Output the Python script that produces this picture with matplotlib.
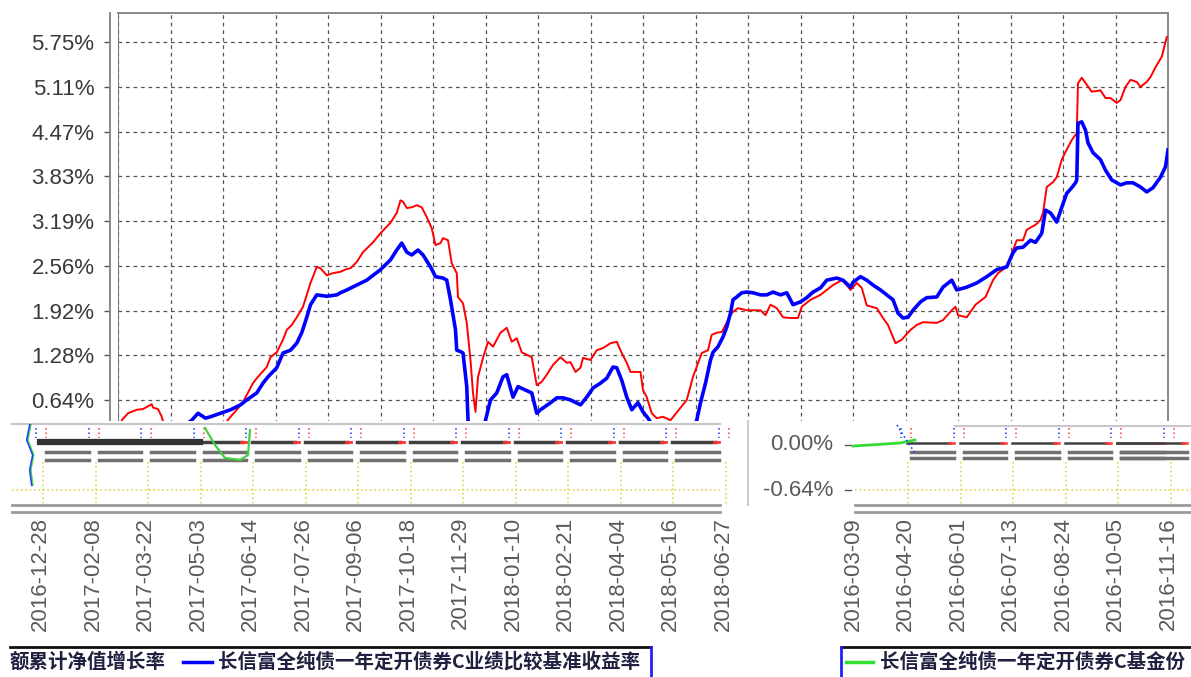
import matplotlib
matplotlib.use("Agg")
import matplotlib.pyplot as plt
from matplotlib.patches import Rectangle
import numpy as np

plt.rcParams['font.family'] = ['Liberation Sans', 'Noto Sans CJK SC', 'DejaVu Sans']

# days from the first date; one grid step = 42 days
red_days = [0, 3, 8, 15, 20, 27, 28, 32, 35, 38, 50, 66, 78, 86, 90, 95, 100, 108, 111, 119,
            122, 127, 132, 135, 139, 143, 148, 154, 156, 159, 162, 167, 172, 178, 183, 186, 191, 196, 204, 210,
            218, 223, 226, 228, 231, 235, 239, 243, 247, 251, 254, 258, 260, 264, 267, 271, 272, 276, 279, 282,
            284, 286, 288, 292, 296, 300, 306, 311, 315, 319, 323, 331, 335, 339, 343, 348, 354, 359, 362, 366,
            370, 372, 378, 383, 388, 394, 399, 403, 407, 410, 418, 420, 423, 427, 431, 436, 442, 450, 455, 460,
            467, 472, 475, 479, 483, 486, 490, 492, 496, 503, 514, 518, 522, 527, 532, 538, 544, 547, 554, 562,
            567, 572, 579, 583, 586, 591, 595, 599, 607, 612, 616, 622, 627, 634, 639, 644, 655, 660, 667, 670,
            672, 679, 686, 694, 700, 704, 711, 719, 724, 727, 734, 738, 740, 743, 748, 751, 755, 758, 763, 767,
            768, 771, 775, 779, 786, 790, 794, 799, 802, 806, 810, 815, 818, 823, 826, 830, 835, 839]
red_vals = [0.00, 0.35, 0.45, 0.50, 0.51, 0.58, 0.53, 0.51, 0.40, 0.21, 0.07, 0.10, 0.18, 0.31, 0.40, 0.50, 0.61, 0.88, 0.95, 1.11,
            1.25, 1.32, 1.50, 1.64, 1.71, 1.82, 1.97, 2.31, 2.40, 2.54, 2.52, 2.42, 2.45, 2.47, 2.51, 2.52, 2.61, 2.75, 2.89, 3.02,
            3.17, 3.31, 3.49, 3.47, 3.38, 3.39, 3.42, 3.39, 3.25, 3.09, 2.85, 2.88, 2.95, 2.92, 2.59, 2.45, 2.11, 2.02, 1.74, 1.21,
            0.74, 0.47, 0.97, 1.24, 1.47, 1.40, 1.60, 1.67, 1.47, 1.52, 1.32, 1.25, 0.85, 0.90, 1.00, 1.14, 1.25, 1.17, 1.18, 1.04,
            1.10, 1.24, 1.21, 1.35, 1.38, 1.45, 1.47, 1.31, 1.17, 1.04, 1.04, 0.78, 0.68, 0.45, 0.38, 0.40, 0.35, 0.53, 0.64, 0.97,
            1.31, 1.35, 1.57, 1.60, 1.61, 1.71, 1.85, 1.90, 1.95, 1.92, 1.92, 1.85, 2.00, 1.95, 1.82, 1.81, 1.81, 1.97, 2.07, 2.14,
            2.21, 2.28, 2.35, 2.28, 2.21, 2.31, 2.24, 1.99, 1.95, 1.81, 1.71, 1.45, 1.50, 1.64, 1.71, 1.75, 1.74, 1.78, 1.92, 1.97,
            1.85, 1.82, 2.00, 2.11, 2.35, 2.45, 2.54, 2.92, 2.92, 3.07, 3.14, 3.21, 3.31, 3.68, 3.75, 3.82, 4.07, 4.18, 4.35, 4.45,
            5.16, 5.24, 5.14, 5.04, 5.06, 4.95, 4.95, 4.88, 4.92, 5.11, 5.21, 5.18, 5.11, 5.18, 5.25, 5.39, 5.54, 5.82]

blue_days = [0, 26, 46, 59, 64, 70, 74, 82, 90, 98, 103, 111, 116, 120, 127, 132, 138, 143, 147, 151,
             154, 159, 167, 175, 178, 183, 191, 199, 210, 218, 223, 227, 231, 235, 240, 244, 250, 254, 260, 263,
             266, 270, 271, 274, 276, 279, 280, 283, 288, 294, 298, 303, 308, 311, 316, 320, 326, 331, 335, 338,
             346, 351, 356, 362, 370, 375, 380, 386, 391, 396, 399, 403, 407, 411, 416, 420, 424, 430, 442, 454,
             463, 466, 470, 474, 476, 480, 484, 487, 490, 492, 495, 499, 503, 508, 514, 519, 524, 530, 535, 540,
             546, 551, 556, 562, 567, 575, 580, 586, 588, 594, 599, 604, 610, 615, 620, 624, 628, 632, 636, 642,
             647, 655, 660, 667, 671, 679, 687, 695, 703, 711, 716, 719, 724, 730, 734, 739, 742, 746, 751, 755,
             759, 763, 766, 767, 768, 771, 774, 776, 780, 786, 790, 795, 802, 807, 812, 818, 823, 828, 834, 838, 840]
blue_vals = [0.00, 0.07, 0.18, 0.35, 0.45, 0.38, 0.40, 0.45, 0.50, 0.57, 0.64, 0.74, 0.88, 0.97, 1.10, 1.31, 1.35, 1.45, 1.60, 1.82,
             2.00, 2.14, 2.12, 2.14, 2.17, 2.21, 2.28, 2.35, 2.50, 2.64, 2.78, 2.88, 2.75, 2.71, 2.78, 2.71, 2.54, 2.40, 2.38, 2.35,
             2.07, 1.64, 1.35, 1.33, 1.31, 0.83, 0.35, -0.07, -0.07, 0.35, 0.64, 0.74, 0.97, 1.00, 0.68, 0.83, 0.78, 0.74, 0.45, 0.50,
             0.60, 0.67, 0.67, 0.64, 0.57, 0.68, 0.81, 0.88, 0.95, 1.11, 1.10, 0.92, 0.68, 0.50, 0.60, 0.47, 0.38, 0.21, 0.00, 0.07,
             0.35, 0.60, 0.88, 1.21, 1.32, 1.40, 1.54, 1.68, 1.88, 2.07, 2.11, 2.17, 2.18, 2.17, 2.14, 2.14, 2.18, 2.14, 2.17, 2.00,
             2.04, 2.10, 2.18, 2.24, 2.35, 2.38, 2.35, 2.25, 2.32, 2.40, 2.35, 2.28, 2.21, 2.14, 2.07, 1.88, 1.81, 1.82, 1.92, 2.04,
             2.10, 2.11, 2.25, 2.35, 2.21, 2.25, 2.31, 2.40, 2.50, 2.54, 2.74, 2.81, 2.82, 2.92, 2.89, 3.02, 3.35, 3.31, 3.18, 3.39,
             3.59, 3.67, 3.74, 3.78, 4.59, 4.61, 4.49, 4.31, 4.17, 4.07, 3.92, 3.78, 3.71, 3.74, 3.74, 3.68, 3.61, 3.67, 3.82, 3.97, 4.21]

ytick_step = 0.6388
labels_left = ['2016-12-28', '2017-02-08', '2017-03-22', '2017-05-03', '2017-06-14', '2017-07-26',
               '2017-09-06', '2017-10-18', '2017-11-29', '2018-01-10', '2018-02-21', '2018-04-04',
               '2018-05-16', '2018-06-27']
labels_right = ['2016-03-09', '2016-04-20', '2016-06-01', '2016-07-13', '2016-08-24', '2016-10-05',
                '2016-11-16']
legend_left_head = '额累计净值增长率'
legend_blue = '长信富全纯债一年定开债券C业绩比较基准收益率'
legend_green = '长信富全纯债一年定开债券C基金份'

W, H = 1191, 677
fig = plt.figure(figsize=(W / 100, H / 100), dpi=100)
ax = fig.add_axes([118 / W, 1 - 506 / H, 1050 / W, 493 / H])

ax.plot(red_days, red_vals, color='#ff0000', lw=1.4, zorder=3)
ax.plot(blue_days, blue_vals, color='#0000ff', lw=2.6, zorder=3)

ax.set_xlim(0, 840)
ax.set_ylim(-0.874, 6.164)
ax.set_xticks(np.arange(0, 841, 42))
ax.set_xticklabels([])
ax.tick_params(axis='x', length=0)
ax.set_yticks([k * ytick_step for k in range(1, 10)])
ax.set_yticklabels(['%.2f%%' % (k * ytick_step) for k in range(1, 10)])
ax.tick_params(axis='y', direction='out', length=4, width=1, color='#555555',
               labelsize=16, labelcolor='#3a3a3a', pad=7)
ax.grid(True, color='#555555', linestyle=(0, (3, 3)), lw=0.9)
ax.spines['left'].set_position(('outward', 6))
for s in ['left', 'top', 'right']:
    ax.spines[s].set_color('#888888')
    ax.spines[s].set_linewidth(1.4)
ax.spines['bottom'].set_visible(False)
ax.axvline(0, color='#777777', lw=1.4, zorder=4)

# date labels, in the shuffled order of the picture
for i, lbl in enumerate(labels_left):
    ax.annotate(lbl, xy=(-62 + 42 * i, 0), xycoords=ax.get_xaxis_transform(),
                xytext=(0, -8), textcoords='offset points', rotation=90,
                ha='center', va='top', fontsize=16, color='#5a5a5a', annotation_clip=False)
for j, lbl in enumerate(labels_right):
    ax.annotate(lbl, xy=(588 + 42 * j, 0), xycoords=ax.get_xaxis_transform(),
                xytext=(0, -8), textcoords='offset points', rotation=90,
                ha='center', va='top', fontsize=16, color='#5a5a5a', annotation_clip=False)

# overlay in pixel units: broken strip and the cut legend
ov = fig.add_axes([0, 0, 1, 1], zorder=5)
ov.set_xlim(0, W)
ov.set_ylim(H, 0)
ov.axis('off')
ov.patch.set_alpha(0)
ov.add_patch(Rectangle((0, 421), W, 94, facecolor='white', edgecolor='none'))

left_ticks = [40 + 52.5 * i for i in range(14)]
right_ticks = [905 + 52.5 * j for j in range(6)]
for x in left_ticks + right_ticks:
    ov.plot([x + 3, x + 3], [462, 504], color='#e0d850', lw=1.2, ls=':')
    ov.plot([x - 4, x - 4], [428, 438], color='#3050ff', lw=1.2, ls=':')
    ov.plot([x + 6, x + 6], [428, 438], color='#ff5050', lw=1.2, ls=':')
for a, b in zip(left_ticks[:-1], left_ticks[1:]):
    ov.plot([a + 6, b - 4], [452, 452], color='#707070', lw=2.5)
    ov.plot([a + 6, b - 4], [460, 460], color='#707070', lw=2.5)
    ov.plot([a + 2, b - 8], [442, 442], color='#404040', lw=2.5)
    ov.plot([b - 9, b - 4], [442, 442], color='#ff3030', lw=2)
for a, b in zip(right_ticks[:-1] + [1115], right_ticks[1:] + [1191]):
    ov.plot([a + 6, b - 4], [452, 452], color='#707070', lw=2.5)
    ov.plot([a + 6, b - 4], [458, 458], color='#707070', lw=2.5)
    ov.plot([a + 2, b - 8], [443, 443], color='#404040', lw=1.8)
    ov.plot([b - 9, b - 4], [443, 443], color='#ff3030', lw=1.8)
ov.plot([40, 200], [442, 442], color='#333333', lw=4.5)
ov.plot([12, 720], [424, 424], color='#c8c8c8', lw=1.5)
ov.plot([12, 720], [490, 490], color='#e0d850', lw=1.2, ls=':')
ov.plot([12, 720], [505, 505], color='#9a9a9a', lw=2)
ov.plot([12, 720], [512, 512], color='#9a9a9a', lw=2)
ov.plot([30, 27, 33, 30, 32], [425, 440, 455, 470, 485], color='#2040ff', lw=1.6)
ov.plot([31, 28, 34, 31, 33], [425, 440, 455, 470, 485], color='#40e040', lw=0.8)
ov.plot([205, 215, 225, 240, 248, 250], [428, 445, 458, 460, 455, 430], color='#40d040', lw=1.6)

ov.plot([748, 748], [421, 505], color='#cccccc', lw=1.5)
ov.text(833, 445, '0.00%', ha='right', va='center', fontsize=16, color='#5a5a5a')
ov.text(833, 490, '-0.64%', ha='right', va='center', fontsize=16, color='#5a5a5a')
ov.plot([845, 851], [445, 445], color='#555555', lw=1)
ov.plot([845, 851], [490, 490], color='#555555', lw=1)
ov.plot([853, 870, 885, 900, 915], [446, 445, 444, 443, 440], color='#33dd33', lw=2)
ov.plot([897, 905, 915], [425, 438, 453], color='#2040ff', lw=1.2, ls=':')
ov.plot([955, W], [426, 426], color='#c8c8c8', lw=1.5)
ov.plot([855, W], [490, 490], color='#e0d850', lw=1.2, ls=':')
ov.plot([855, W], [505, 505], color='#9a9a9a', lw=2)
ov.plot([855, W], [512, 512], color='#9a9a9a', lw=2)

# legend pieces, cut at both ends as in the picture
leg_kw = dict(fontsize=14, fontweight='bold', color='#202040', va='center',
              family=['Noto Sans CJK SC', 'DejaVu Sans'])
ov.plot([10, 651], [647, 647], color='#111111', lw=2)
ov.plot([651, 651], [647, 677], color='#2020ff', lw=2)
ov.text(10, 662, legend_left_head, ha='left', **leg_kw)
ov.plot([183, 212], [662, 662], color='#0000ff', lw=2.5)
ov.text(218, 662, legend_blue, ha='left', **leg_kw)
ov.plot([841, W], [647, 647], color='#111111', lw=2)
ov.plot([841, 841], [647, 677], color='#2020ff', lw=2)
ov.plot([846, 873], [662, 662], color='#33dd33', lw=2.5)
ov.text(880, 662, legend_green, ha='left', **leg_kw)

fig.savefig('out.png', dpi=100)
